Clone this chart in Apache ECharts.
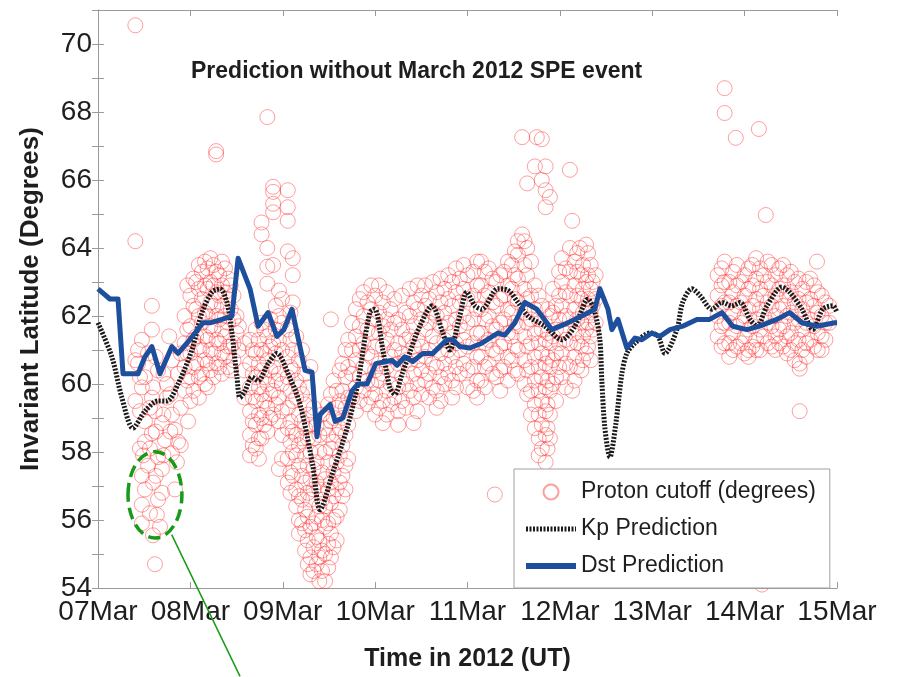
<!DOCTYPE html>
<html>
<head>
<meta charset="utf-8">
<title>Prediction without March 2012 SPE event</title>
<script src="https://cdn.jsdelivr.net/npm/echarts@6/dist/echarts.min.js"></script>
<style>
  html, body { margin: 0; padding: 0; background: #ffffff; }
  #chart { width: 910px; height: 677px; }
</style>
</head>
<body>
<div id="chart"></div>
<script>
// Time is measured in hours since 07 Mar 2012 00:00 UT.
const dayLabels = ['07Mar', '08Mar', '09Mar', '10Mar', '11Mar', '12Mar', '13Mar', '14Mar', '15Mar'];

// Proton cutoff observations, grouped as [hour, [latitudes...]].
const protonMar07 = [
  [9.7, [70.55, 64.2, 60.7, 59.5]],
  [10.4, [61.0, 60.6]],
  [10.9, [60.2, 59.2, 58.1]],
  [11.4, [61.3, 59.9, 57.3, 56.45, 55.9]],
  [11.7, [57.9]],
  [12.2, [60.2, 58.9, 58.3, 56.9]],
  [13.0, [60.9, 57.6]],
  [13.5, [59.3, 58.1, 56.2]],
  [14.0, [62.3, 61.6, 59.6, 58.55]],
  [14.3, [59.9, 57.1, 55.55]],
  [14.8, [59.2, 54.7]],
  [15.0, [60.8, 58.6, 57.3]],
  [15.3, [56.15]],
  [15.6, [60.4, 57.85, 56.6]],
  [16.1, [55.8]],
  [16.6, [58.85, 57.5, 56.8]],
  [17.0, [60.3, 59.1, 57.9]],
  [17.4, [58.35]],
  [17.9, [59.6, 60.0]],
  [18.5, [61.4]],
  [18.8, [59.7, 58.6]],
  [19.2, [59.1, 57.96, 60.7]],
  [20.0, [58.65, 56.9]],
  [20.5, [57.7]],
  [20.8, [58.3, 60.3]],
  [21.5, [59.3, 60.9, 58.2]],
  [22.5, [59.8, 62.0, 61.2, 60.5]],
  [23.2, [62.9, 61.6, 60.9, 60.1]],
  [23.4, [58.9]]
];
const protonMar08 = [
  [24.0, [62.6, 61.7, 60.9, 60.2, 59.5]],
  [24.8, [63.1, 62.3, 61.3, 60.5, 59.8]],
  [25.5, [63.0, 62.2, 61.4, 60.6]],
  [26.2, [63.5, 62.8, 62.0, 61.1, 60.2, 59.6]],
  [27.0, [63.3, 62.5, 61.8, 61.0, 60.3]],
  [27.8, [63.6, 62.9, 62.1, 61.4, 60.7, 60.0]],
  [28.5, [63.4, 62.8, 62.0, 61.3, 60.6, 59.9]],
  [29.2, [63.7, 63.0, 62.4, 61.7, 61.0, 60.4]],
  [30.0, [63.5, 62.9, 62.3, 61.6, 60.9, 60.2]],
  [30.7, [66.85, 66.75]],
  [30.8, [63.3, 62.7, 62.0, 61.3, 60.6]],
  [31.5, [63.2, 62.6, 61.9, 61.2, 60.5]],
  [32.2, [63.6, 62.9, 62.3, 61.6, 60.9, 60.3]],
  [33.0, [63.4, 62.7, 62.0, 61.4, 60.8]],
  [33.8, [63.1, 62.5, 61.8, 61.1, 60.5]],
  [34.5, [62.9, 62.2, 61.1, 60.4]],
  [35.2, [62.6, 61.9, 61.2, 60.7]],
  [36.0, [62.0, 61.5]],
  [36.6, [61.7, 61.0]],
  [38.0, [61.2, 60.4, 59.6]],
  [39.5, [61.3, 60.6, 59.9, 59.2, 58.5, 57.9]],
  [40.2, [61.0, 60.3, 59.6, 58.9, 58.2]],
  [41.0, [61.6, 60.9, 60.2, 59.5, 58.8, 58.1]],
  [41.8, [61.3, 60.6, 59.9, 59.1, 58.4, 57.8]],
  [42.5, [64.75, 64.4, 61.8, 61.0, 60.4, 59.7, 59.0, 58.4]],
  [43.2, [61.6, 60.9, 60.2, 59.5, 58.8]],
  [44.0, [67.85, 64.0, 63.45, 62.95, 61.4, 60.7, 60.0, 59.3, 58.6]],
  [44.8, [61.9, 61.1, 60.4, 59.7, 59.0]],
  [45.5, [65.8, 65.65, 65.3, 65.05, 63.5, 61.2, 60.5, 59.8, 59.1]],
  [46.2, [62.3, 61.6, 60.9, 60.1, 59.4]],
  [47.0, [62.75, 62.0, 61.3, 60.3, 59.6, 58.9, 57.5]],
  [47.8, [62.5, 61.8, 61.0, 60.0, 59.2, 58.5, 57.8]]
];
const protonMar09 = [
  [49.3, [65.7, 65.2, 64.8, 63.9, 61.6, 60.8, 60.2, 59.3, 58.7, 57.8, 57.1]],
  [50.0, [62.1, 61.3, 60.5, 59.8, 58.9, 58.3, 57.4, 56.8]],
  [50.6, [63.7, 63.2, 62.4, 61.0, 60.4, 59.5, 58.6, 58.0, 57.3]],
  [51.5, [61.4, 60.1, 59.6, 58.5, 57.9, 56.9, 56.4]],
  [52.2, [60.7, 59.9, 59.1, 58.2, 57.6, 56.7, 56.0, 55.6]],
  [53.0, [61.0, 59.7, 58.9, 58.4, 57.3, 56.6, 55.9]],
  [53.8, [60.3, 59.4, 58.7, 57.9, 57.1, 56.3, 55.7, 55.1]],
  [54.5, [59.9, 59.1, 58.4, 57.6, 56.8, 56.1, 55.4, 54.7]],
  [55.2, [60.5, 58.8, 58.0, 57.2, 56.6, 55.8, 54.9, 54.4]],
  [56.0, [59.3, 58.4, 57.5, 56.9, 55.9, 55.2, 54.5]],
  [56.8, [58.8, 57.7, 57.1, 56.1, 55.5, 54.7]],
  [57.5, [58.5, 58.0, 56.9, 56.4, 55.4, 54.9, 54.2]],
  [58.2, [59.1, 57.4, 56.6, 56.0, 55.1, 54.5]],
  [59.0, [58.7, 58.0, 57.2, 56.4, 55.8, 55.0, 54.2]],
  [59.8, [59.4, 58.5, 57.7, 56.9, 55.9, 55.3, 54.6]],
  [60.5, [61.9, 59.7, 58.9, 58.1, 57.1, 56.5, 55.6, 54.9]],
  [61.2, [60.1, 59.0, 58.3, 57.4, 56.7, 56.0, 55.2]],
  [62.0, [59.8, 59.3, 58.5, 57.7, 56.9, 56.1, 55.4]],
  [62.8, [60.4, 59.5, 58.7, 57.9, 57.1, 56.3]],
  [63.5, [60.6, 59.8, 59.0, 58.2, 57.3, 56.7]],
  [64.3, [61.0, 60.2, 59.3, 58.5, 57.6, 56.9]],
  [65.0, [61.3, 60.5, 59.6, 58.8, 57.8]],
  [66.0, [61.8, 61.0, 60.3, 59.6]],
  [67.0, [62.2, 61.4, 60.7, 59.9, 59.2]],
  [68.0, [62.5, 61.7, 61.0, 60.2, 59.5]],
  [69.0, [62.7, 62.0, 61.2, 60.5, 59.8]],
  [70.0, [62.4, 61.6, 60.9, 60.1, 59.4]],
  [71.0, [62.9, 62.2, 61.5, 60.8, 60.0, 59.6]],
  [72.0, [62.6, 61.9, 61.1, 60.4, 59.7, 59.1]]
];
const protonMar10 = [
  [73.0, [62.9, 62.1, 61.5, 60.6, 60.1, 59.3]],
  [74.0, [62.4, 61.7, 61.1, 60.3, 59.5, 58.85]],
  [75.0, [62.7, 61.9, 61.3, 60.5, 59.8, 59.1]],
  [76.0, [62.2, 61.6, 60.8, 60.0, 59.4]],
  [77.0, [62.5, 61.8, 61.0, 60.4, 59.6]],
  [78.0, [61.9, 61.2, 60.6, 59.9, 59.2, 58.8]],
  [79.0, [62.6, 61.6, 60.9, 60.2, 59.5]],
  [80.0, [62.1, 61.3, 60.7, 60.0, 59.3]],
  [81.0, [62.8, 62.0, 61.4, 60.6, 59.8]],
  [82.0, [62.4, 61.7, 61.1, 60.3, 59.6, 58.85]],
  [83.0, [62.9, 62.2, 61.3, 60.7, 60.0, 59.2]],
  [84.0, [62.6, 61.9, 61.1, 60.4, 59.7]],
  [85.0, [62.9, 62.3, 61.6, 60.8, 60.1]],
  [86.0, [62.5, 61.8, 61.0, 60.3, 59.6]],
  [87.0, [63.0, 62.1, 61.4, 60.6, 59.9]],
  [88.0, [62.7, 62.0, 61.2, 60.5, 59.8, 59.3]],
  [89.0, [63.1, 62.4, 61.7, 60.9, 60.2, 59.5]],
  [90.0, [62.8, 62.1, 61.3, 60.6, 60.0]],
  [91.0, [63.2, 62.5, 61.8, 61.0, 60.3]],
  [92.0, [63.0, 62.3, 61.5, 60.8, 60.1, 59.6]],
  [93.0, [63.4, 62.7, 61.9, 61.2, 60.5, 59.9]],
  [94.0, [63.1, 62.4, 61.7, 61.0, 60.3]],
  [95.0, [63.5, 62.8, 62.0, 61.3, 60.6]],
  [96.0, [63.2, 62.5, 61.8, 61.1, 60.4, 59.9]]
];
const protonMar11 = [
  [97.5, [63.3, 62.6, 61.9, 61.2, 60.5, 59.8]],
  [98.5, [63.6, 62.9, 62.2, 61.5, 60.8, 60.1, 59.6]],
  [99.5, [63.6, 62.9, 62.2, 61.5, 60.8, 60.1]],
  [100.5, [63.3, 62.6, 61.9, 61.2, 60.5, 59.9]],
  [101.5, [63.4, 62.7, 62.0, 61.3, 60.6]],
  [102.5, [63.1, 62.4, 61.7, 61.0, 60.3]],
  [103.1, [56.75]],
  [103.5, [63.0, 62.3, 61.6, 60.9, 60.2]],
  [104.5, [63.2, 62.5, 61.8, 61.1, 60.4, 59.8]],
  [105.5, [63.3, 62.6, 61.9, 61.2, 60.5]],
  [106.5, [63.6, 62.9, 62.2, 61.5, 60.8, 60.1]],
  [107.5, [63.5, 62.8, 62.1, 61.4, 60.7]],
  [108.3, [63.9, 63.2, 62.5, 61.8, 61.1, 60.4]],
  [109.1, [64.2, 63.8, 63.1, 62.4, 61.7, 61.0, 60.3]],
  [110.2, [67.26, 64.4]],
  [110.8, [64.2, 63.5, 62.8, 62.1, 61.4, 60.7, 60.0]],
  [111.5, [65.9, 64.0, 63.2, 62.5, 61.8, 61.1, 60.4, 59.7]],
  [112.5, [63.6, 62.6, 61.9, 61.2, 60.5, 59.8, 59.1]],
  [113.5, [66.4, 62.9, 62.2, 61.5, 60.8, 60.1, 59.4, 58.7]],
  [114.0, [67.26]],
  [114.5, [62.6, 61.9, 61.2, 60.5, 59.8, 59.1, 58.4, 57.9]],
  [115.3, [67.2, 66.0, 62.3, 61.6, 60.9, 60.2, 59.5, 58.8, 58.1]],
  [116.3, [66.4, 65.7, 65.2, 61.3, 60.6, 59.9, 59.2, 58.5, 57.7, 57.0]],
  [116.8, [62.2, 61.5, 60.8, 60.1, 59.4, 58.7, 58.1]],
  [117.4, [65.5, 62.0, 61.2, 60.5, 59.8, 59.1, 58.4]],
  [118.2, [62.8, 62.1, 61.4, 60.7, 60.0]],
  [119.0, [62.3, 61.6, 60.9, 60.2, 59.5]],
  [119.8, [63.3, 62.6, 61.9, 61.2, 60.5]]
];
const protonMar12 = [
  [120.5, [63.7, 63.0, 62.3, 61.6, 60.9, 60.2]],
  [121.5, [63.4, 62.7, 62.0, 61.3, 60.6, 59.9]],
  [122.6, [66.3, 64.0, 63.3, 62.6, 61.9, 61.2, 60.5]],
  [123.2, [64.8, 59.8]],
  [123.8, [63.6, 62.9, 62.2, 61.5, 60.8, 60.1]],
  [124.5, [63.85, 63.3, 62.6, 61.9, 61.2, 60.5]],
  [125.2, [64.0]],
  [125.6, [63.2, 62.5, 61.8, 61.1, 60.4]],
  [126.0, [63.5, 62.8, 62.1, 61.4, 60.7]],
  [126.8, [64.1, 63.0, 62.3, 61.6, 60.9]],
  [127.3, [63.85, 63.2, 62.5, 61.8, 61.1]],
  [128.0, [63.5, 62.8, 62.1, 61.4, 60.7]],
  [128.5, [63.0, 62.3, 61.6]],
  [129.3, [63.2, 62.5, 61.8]]
];
const protonMar14 = [
  [161.0, [63.2, 62.6, 62.0, 61.4]],
  [162.0, [63.4, 62.9, 62.3, 61.7, 61.1]],
  [162.8, [68.7, 67.97, 63.6, 63.0, 62.4, 61.8, 61.2]],
  [164.0, [63.0, 62.4, 61.8, 61.2, 60.8]],
  [165.0, [63.3, 62.7, 62.1, 61.5, 61.0]],
  [165.7, [67.24]],
  [166.0, [63.5, 62.9, 62.3, 61.7, 61.1]],
  [167.0, [63.0, 62.4, 61.8, 61.2]],
  [168.0, [63.2, 62.6, 62.0, 61.4, 60.9]],
  [169.0, [63.4, 62.8, 62.2, 61.6, 61.0, 60.8]],
  [170.0, [63.5, 62.9, 62.3, 61.7, 61.1]],
  [171.0, [63.7, 63.1, 62.5, 61.9, 61.3, 61.0]],
  [171.7, [67.5]],
  [172.0, [63.4, 62.8, 62.2, 61.6, 61.0]],
  [172.5, [54.1]],
  [173.0, [63.2, 62.6, 62.0, 61.4]],
  [173.5, [64.97]],
  [174.0, [63.6, 63.0, 62.4, 61.8, 61.2]],
  [175.0, [63.5, 62.9, 62.3, 61.7, 61.1]],
  [176.0, [63.2, 62.6, 62.0, 61.4, 61.0]],
  [177.0, [63.4, 62.8, 62.2, 61.6, 61.2]],
  [178.0, [63.5, 62.9, 62.3, 61.7, 61.1]],
  [179.0, [63.2, 62.6, 62.0, 61.4, 60.9]],
  [180.0, [63.3, 62.7, 62.1, 61.5, 61.0]],
  [181.0, [63.0, 62.4, 61.8, 61.2, 60.7]],
  [182.0, [63.1, 62.5, 61.9, 61.3]],
  [182.3, [60.6, 60.45, 59.2]],
  [183.0, [62.8, 62.2, 61.6, 61.0]],
  [184.0, [63.0, 62.4, 61.8, 61.2, 60.8]],
  [185.0, [63.1, 62.5, 61.9, 61.3]],
  [186.0, [62.9, 62.3, 61.7, 61.1]],
  [186.8, [63.6]],
  [187.0, [62.7, 62.1, 61.5, 61.0]],
  [188.0, [62.6, 62.0, 61.4, 61.0]],
  [189.0, [62.4, 61.8, 61.3]],
  [190.0, [62.3, 61.8]]
];

// Kp-driven cutoff prediction, [hour, latitude].
const kpPrediction = [
  [0, 61.8], [3.6, 60.8], [6.2, 59.6], [9.1, 58.7], [12.2, 59.2], [15.6, 59.5], [17.9, 59.5],
  [20.8, 60.0], [24.4, 61.0], [27.0, 62.1], [29.6, 62.7], [31.7, 62.8], [33.5, 62.4], [34.8, 61.5],
  [36.1, 60.2], [36.9, 59.6], [38.2, 59.8], [40.0, 60.2], [41.6, 60.1], [44.2, 60.6], [46.5, 60.9],
  [49.4, 60.3], [52.5, 59.4], [55.8, 57.6], [57.7, 56.3], [61.0, 57.4], [64.7, 58.7], [67.3, 59.9],
  [70.6, 62.1], [71.9, 62.2], [74.0, 61.0], [75.8, 59.9], [77.1, 59.7], [79.0, 60.3], [80.3, 60.7],
  [83.6, 61.7], [86.8, 62.3], [89.6, 61.5], [91.4, 61.0], [94.0, 62.0], [95.8, 62.7], [97.9, 62.3],
  [99.7, 62.2], [103.9, 62.8], [106.5, 62.76], [109.1, 62.4], [111.7, 62.0], [116.1, 61.7],
  [120.5, 61.3], [123.9, 61.7], [127.3, 62.5], [129.1, 62.1], [130.4, 61.3], [130.9, 60.1],
  [131.7, 58.7], [133.0, 57.85], [134.5, 58.8], [136.1, 60.3], [137.4, 60.9], [139.5, 61.2],
  [143.4, 61.5], [145.5, 61.4], [147.3, 60.9], [150.4, 61.6], [151.9, 62.4], [154.3, 62.8],
  [156.4, 62.6], [159.5, 62.2], [162.1, 62.4], [164.7, 62.3], [166.8, 62.4], [169.4, 61.9],
  [171.2, 61.7], [173.8, 62.3], [177.7, 62.85], [179.7, 62.7], [182.9, 62.2], [185.7, 61.6],
  [188.3, 62.2], [190.9, 62.3], [192, 62.1]
];

// Dst-driven cutoff prediction, [hour, latitude].
const dstPrediction = [
  [0, 62.8], [3.1, 62.5], [5.2, 62.5], [6.5, 60.3], [10.4, 60.3], [12.2, 60.8], [14.0, 61.1],
  [16.1, 60.3], [19.2, 61.1], [20.8, 60.9], [23.1, 61.2], [27.3, 61.8], [29.1, 61.8], [32.2, 61.9],
  [34.8, 62.0], [36.4, 63.7], [39.5, 62.8], [41.6, 61.7], [44.2, 62.1], [46.5, 61.4], [48.3, 61.6],
  [50.4, 62.2], [53.8, 60.4], [55.6, 60.35], [56.9, 58.45], [57.7, 59.1], [60.3, 59.4], [61.6, 58.9],
  [63.6, 59.0], [66.0, 59.8], [67.5, 60.0], [69.9, 60.0], [72.2, 60.6], [76.4, 60.7], [77.7, 60.55],
  [79.7, 60.8], [81.8, 60.66], [84.4, 60.9], [87.0, 60.9], [90.6, 61.3], [92.2, 61.3], [94.0, 61.1],
  [96.6, 61.06], [99.7, 61.2], [103.9, 61.5], [105.7, 61.44], [108.3, 61.8], [110.9, 62.4],
  [114.0, 62.2], [117.9, 61.6], [121.3, 61.76], [125.7, 62.0], [129.1, 62.2], [130.4, 62.8],
  [132.5, 62.2], [133.5, 61.6], [135.1, 61.9], [137.4, 61.06], [139.5, 61.35], [141.3, 61.3],
  [143.9, 61.5], [146.0, 61.4], [148.6, 61.6], [151.9, 61.7], [155.6, 61.9], [158.9, 61.9],
  [162.1, 62.1], [164.9, 61.7], [168.6, 61.6], [171.9, 61.7], [176.4, 61.9], [179.7, 62.1],
  [182.9, 61.8], [186.8, 61.7], [191.4, 61.8], [192, 61.8]
];

// Highlighted group of low-latitude cutoffs on 07 Mar: centre and half-extents
// in data units, plus the end point of the leader line.
const highlightCentre = [14.8, 56.74];
const highlightHalfSpan = [7.0, 1.27];
const leaderEnd = [36.9, 51.4];

const FONT = '"Liberation Sans", Arial, Helvetica, sans-serif';
const AXIS_GREY = '#9a9a9a';
const TEXT = '#1e1e1e';
const KP_COLOR = '#1a1a1a';
const DST_COLOR = '#1d4f9d';
const KP_DASH = [2, 1.5];

function flatten(groups) {
  const out = [];
  groups.forEach(([h, vals]) => vals.forEach(v => out.push([h, v])));
  return out;
}
const protonPoints = flatten([].concat(
  protonMar07, protonMar08, protonMar09, protonMar10, protonMar11, protonMar12, protonMar14
));

const chart = echarts.init(document.getElementById('chart'), null, { renderer: 'canvas' });

const frameAxis = {
  axisLine: { show: true, lineStyle: { color: AXIS_GREY, width: 1 } },
  axisTick: { show: true, inside: true, length: 6, lineStyle: { color: AXIS_GREY } },
  splitLine: { show: false }
};

chart.setOption({
  animation: false,
  backgroundColor: '#ffffff',
  textStyle: { fontFamily: FONT },
  title: {
    text: 'Prediction without March 2012 SPE event',
    left: 191,
    top: 60,
    padding: 0,
    textStyle: { fontFamily: FONT, fontSize: 23, fontWeight: 'bold', color: TEXT }
  },
  grid: { left: 98, right: 73, top: 10, bottom: 89, containLabel: false },
  xAxis: [
    Object.assign({
      type: 'value', position: 'bottom', min: 0, max: 192, interval: 24,
      axisLabel: {
        fontSize: 28, color: TEXT, margin: 10, fontFamily: FONT,
        formatter: v => dayLabels[Math.round(v / 24)]
      },
      name: 'Time in 2012 (UT)',
      nameLocation: 'middle',
      nameGap: 59,
      nameTextStyle: { fontSize: 25, fontWeight: 'bold', color: TEXT, fontFamily: FONT }
    }, frameAxis),
    Object.assign({
      type: 'value', position: 'top', min: 0, max: 192, interval: 24,
      axisLabel: { show: false }
    }, frameAxis)
  ],
  yAxis: [
    Object.assign({
      type: 'value', position: 'left', min: 54, max: 71, interval: 1,
      axisLabel: {
        fontSize: 28, color: TEXT, margin: 6, fontFamily: FONT,
        formatter: v => (v % 2 === 0 ? String(v) : '')
      },
      name: 'Invariant Latitude (Degrees)',
      nameLocation: 'middle',
      nameGap: 54,
      nameTextStyle: { fontSize: 26, fontWeight: 'bold', color: TEXT, fontFamily: FONT }
    }, frameAxis),
    Object.assign({
      type: 'value', position: 'right', min: 54, max: 71, interval: 1,
      axisLabel: { show: false }
    }, frameAxis)
  ],
  legend: {
    orient: 'vertical',
    left: 514,
    top: 469,
    padding: [10, 14, 9, 9],
    itemWidth: 50,
    itemHeight: 15,
    itemGap: 11,
    backgroundColor: '#ffffff',
    borderColor: '#a0a0a0',
    borderWidth: 1,
    borderRadius: 0,
    selectedMode: false,
    textStyle: { fontSize: 23, color: TEXT, fontFamily: FONT, lineHeight: 26 },
    data: [
      { name: 'Proton cutoff (degrees)', icon: 'circle' },
      {
        name: 'Kp Prediction',
        itemStyle: { opacity: 0 },
        lineStyle: { color: KP_COLOR, width: 5, type: KP_DASH, cap: 'butt', opacity: 1 }
      },
      {
        name: 'Dst Prediction',
        itemStyle: { opacity: 0 },
        lineStyle: { color: DST_COLOR, width: 6, type: 'solid', opacity: 1 }
      }
    ]
  },
  series: [
    {
      name: 'Proton cutoff (degrees)',
      type: 'scatter',
      symbol: 'circle',
      symbolSize: 15,
      data: protonPoints,
      itemStyle: {
        color: 'rgba(255,255,255,0)',
        borderColor: 'rgba(255,35,35,0.55)',
        borderWidth: 1
      },
      emphasis: { disabled: true },
      z: 2
    },
    {
      name: 'Kp Prediction',
      type: 'line',
      data: kpPrediction,
      showSymbol: false,
      symbol: 'none',
      smooth: 0.3,
      lineStyle: { color: KP_COLOR, width: 5, type: KP_DASH, cap: 'butt' },
      itemStyle: { color: KP_COLOR },
      emphasis: { disabled: true },
      z: 3
    },
    {
      name: 'Dst Prediction',
      type: 'line',
      data: dstPrediction,
      showSymbol: false,
      symbol: 'none',
      lineStyle: { color: DST_COLOR, width: 5, join: 'round' },
      itemStyle: { color: DST_COLOR },
      emphasis: { disabled: true },
      z: 4
    }
  ]
});

// Green dashed ellipse and leader line marking the low-latitude group on 07 Mar.
const toPx = p => chart.convertToPixel({ xAxisIndex: 0, yAxisIndex: 0 }, p);
const c = toPx(highlightCentre);
const corner = toPx([highlightCentre[0] + highlightHalfSpan[0], highlightCentre[1] - highlightHalfSpan[1]]);
const rx = corner[0] - c[0];
const ry = corner[1] - c[1];
const leadStart = [c[0] + rx * 0.62, c[1] + ry * 0.92];
const leadEnd = toPx(leaderEnd);

chart.setOption({
  graphic: [
    {
      type: 'ellipse',
      shape: { cx: c[0], cy: c[1], rx: rx, ry: ry },
      style: { fill: 'none', stroke: '#179a17', lineWidth: 3.5, lineDash: [12, 6] },
      z: 100
    },
    {
      type: 'line',
      shape: { x1: leadStart[0], y1: leadStart[1], x2: leadEnd[0], y2: leadEnd[1] },
      style: { stroke: '#179a17', lineWidth: 1.5 },
      z: 100
    }
  ]
});
</script>
</body>
</html>
